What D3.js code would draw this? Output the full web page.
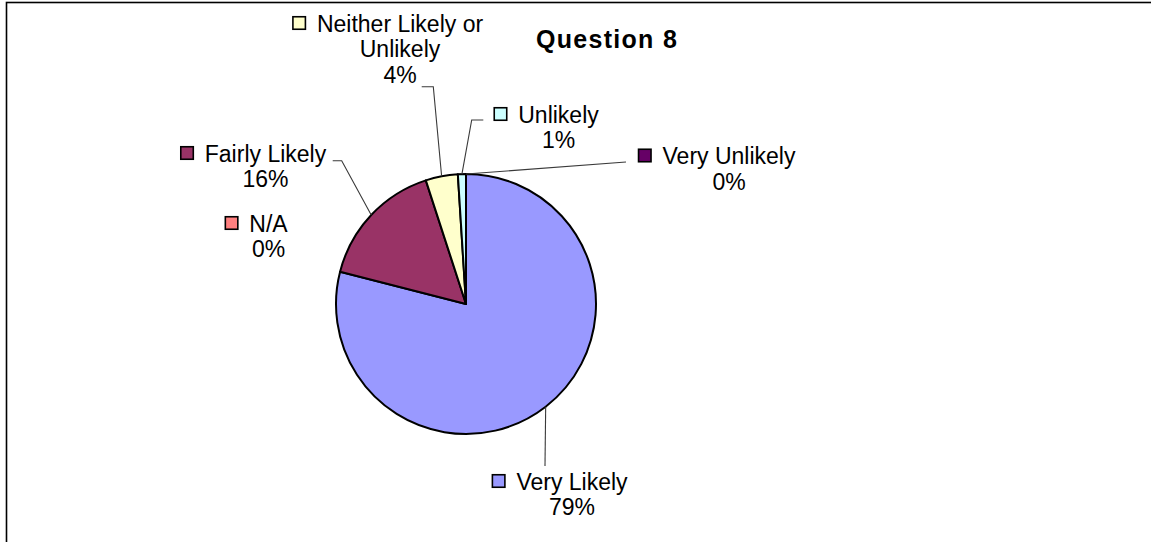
<!DOCTYPE html>
<html>
<head>
<meta charset="utf-8">
<script src="https://cdn.jsdelivr.net/npm/d3@7"></script>
<style>
  html, body { margin: 0; padding: 0; background: #fff; }
  svg { display: block; }
  text { font-family: "Liberation Sans", Arial, sans-serif; fill: #000; }
</style>
</head>
<body>
<svg id="chart" width="1151" height="542"></svg>
<script>
// Survey responses, Question 8 (percent of respondents)
const title = "Question 8";
const categories = ["Very Likely", "N/A", "Fairly Likely", "Neither Likely or Unlikely", "Unlikely", "Very Unlikely"];
const values = [79, 0, 16, 4, 1, 0];
const labelLines = [["Very Likely"], ["N/A"], ["Fairly Likely"], ["Neither Likely or", "Unlikely"], ["Unlikely"], ["Very Unlikely"]];
const sliceColors = ["#9999FF", "#FF8080", "#993366", "#FFFFCC", "#CCFFFF", "#660066"];

// Label placement: centre x and first baseline, plus the leader's bend points
const labelLayout = [
  { cx: 572,   y: 489.5, leader: [[545, 466]] },
  { cx: 268.5, y: 231.5, leader: null },
  { cx: 265.5, y: 161.5, leader: [[341.7, 160.7], [332.7, 160.7]] },
  { cx: 400,   y: 31.5,  leader: [[433.3, 86.7], [421.7, 86.7]] },
  { cx: 558.5, y: 122.5, leader: [[471.7, 120], [483.3, 120]] },
  { cx: 729,   y: 164,   leader: [[626, 162]] }
];

const svg = d3.select("#chart");
const cx = 466, cy = 304, radius = 130;
const fontSize = 23, lineGap = 25.8, keySize = 12.5, keyGap = 11.5;

// chart-area frame
svg.append("rect")
  .attr("x", 6.5).attr("y", 2.5)
  .attr("width", 1200).attr("height", 600)
  .attr("fill", "none").attr("stroke", "#000").attr("stroke-width", 1.6);

// title
svg.append("text")
  .attr("x", 607).attr("y", 48)
  .attr("text-anchor", "middle")
  .attr("font-size", 25).attr("font-weight", "bold")
  .attr("letter-spacing", 1.3)
  .text(title);

const data = categories.map((c, i) => ({ name: c, value: values[i], i }));
const pie = d3.pie().value(d => d.value).sort(null).startAngle(0).endAngle(2 * Math.PI);
const arcs = pie(data);
const arc = d3.arc().innerRadius(0).outerRadius(radius);

const g = svg.append("g").attr("transform", `translate(${cx},${cy})`);
g.selectAll("path.slice")
  .data(arcs.filter(a => a.data.value > 0))
  .join("path")
  .attr("class", "slice")
  .attr("d", arc)
  .attr("fill", d => sliceColors[d.data.i])
  .attr("stroke", "#000")
  .attr("stroke-width", 2)
  .attr("stroke-linejoin", "round");

// leader lines from the slice rim to each label
const line = d3.line();
arcs.forEach(a => {
  const lay = labelLayout[a.data.i];
  if (!lay.leader) return;
  const mid = (a.startAngle + a.endAngle) / 2;
  const edge = [cx + radius * Math.sin(mid), cy - radius * Math.cos(mid)];
  svg.append("path")
    .attr("d", line([edge, ...lay.leader]))
    .attr("fill", "none")
    .attr("stroke", "#3a3a3a")
    .attr("stroke-width", 1.1);
});

// data labels: name lines, percentage, legend key
arcs.forEach(a => {
  const i = a.data.i;
  const lay = labelLayout[i];
  const lines = labelLines[i].concat([Math.round(a.data.value) + "%"]);
  const lg = svg.append("g");
  let firstLeft = null;
  lines.forEach((t, k) => {
    const txt = lg.append("text")
      .attr("x", lay.cx)
      .attr("y", lay.y + k * lineGap)
      .attr("text-anchor", "middle")
      .attr("font-size", fontSize)
      .text(t);
    if (k === 0) firstLeft = lay.cx - txt.node().getComputedTextLength() / 2;
  });
  lg.append("rect")
    .attr("x", firstLeft - keyGap - keySize)
    .attr("y", lay.y - 8.5 - keySize / 2)
    .attr("width", keySize).attr("height", keySize)
    .attr("fill", sliceColors[i])
    .attr("stroke", "#000").attr("stroke-width", 1.6);
});
</script>
</body>
</html>
